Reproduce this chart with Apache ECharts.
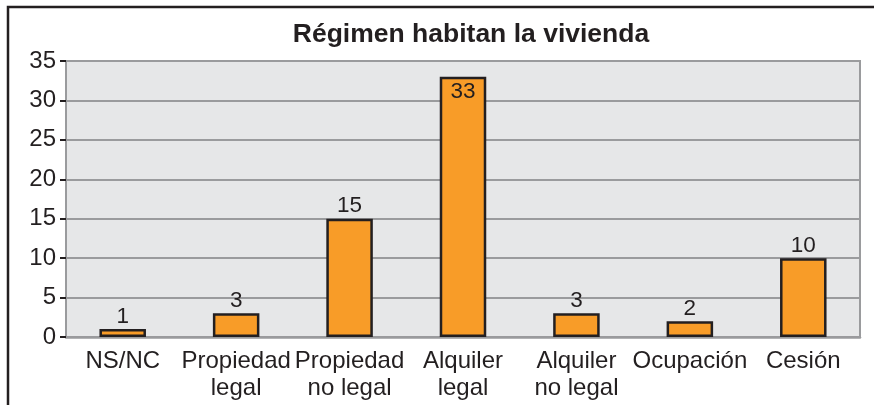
<!DOCTYPE html>
<html>
<head>
<meta charset="utf-8">
<script src="https://cdn.jsdelivr.net/npm/echarts@6/dist/echarts.min.js"></script>
<style>
  html, body { margin: 0; padding: 0; background: #fff; }
  #barChart { width: 874px; height: 405px; }
</style>
</head>
<body>
<div id="barChart"></div>
<script>
// data
var categories = ['NS/NC', 'Propiedad\nlegal', 'Propiedad\nno legal', 'Alquiler\nlegal', 'Alquiler\nno legal', 'Ocupación', 'Cesión'];
var values = [1, 3, 15, 33, 3, 2, 10];
var yTicks = [0, 5, 10, 15, 20, 25, 30, 35];

var textColor = '#231f20';
var font = '"Liberation Sans", Arial, Helvetica, sans-serif';

var dom = document.getElementById('barChart');
var myChart = echarts.init(dom, null, { renderer: 'canvas' });

// the tallest bar carries its label inside, the others above
var barData = values.map(function (v) {
    var item = { value: v };
    if (v >= 30) {
        item.label = { position: 'insideTop', distance: 4 };
    }
    return item;
});

var option = {
    animation: false,
    title: {
        text: 'Régimen habitan la vivienda',
        left: 466,
        textAlign: 'center',
        top: 16,
        textStyle: {
            fontFamily: font,
            fontWeight: 'bold',
            fontSize: 26.5,
            color: textColor
        }
    },
    graphic: [{
        type: 'rect',
        silent: true,
        shape: { x: 8, y: 7, width: 900, height: 460 },
        style: { fill: 'none', stroke: textColor, lineWidth: 2.5 }
    }],
    grid: {
        left: 66,
        top: 61,
        right: 14,
        bottom: 68,
        show: true,
        backgroundColor: '#e6e7e8',
        borderColor: '#9a9b9d',
        borderWidth: 2
    },
    xAxis: {
        type: 'category',
        data: categories,
        axisTick: { show: false },
        axisLine: { lineStyle: { color: '#9a9b9d', width: 2.5 } },
        axisLabel: {
            interval: 0,
            margin: 11,
            color: textColor,
            fontFamily: font,
            fontSize: 24,
            lineHeight: 27
        }
    },
    yAxis: {
        type: 'value',
        min: yTicks[0],
        max: yTicks[yTicks.length - 1],
        interval: 5,
        axisLine: { show: false },
        axisTick: {
            show: true,
            inside: false,
            length: 6,
            lineStyle: { color: textColor, width: 2 }
        },
        splitLine: { lineStyle: { color: '#9a9b9d', width: 2 } },
        axisLabel: {
            margin: 10,
            color: textColor,
            fontFamily: font,
            fontSize: 24
        }
    },
    series: [{
        type: 'bar',
        data: barData,
        barWidth: '41%',
        itemStyle: {
            color: '#f89c28',
            borderColor: textColor,
            borderWidth: 2.5
        },
        label: {
            show: true,
            position: 'top',
            distance: 1,
            color: textColor,
            fontFamily: font,
            fontSize: 22.5
        }
    }]
};

myChart.setOption(option, true);
</script>
</body>
</html>
